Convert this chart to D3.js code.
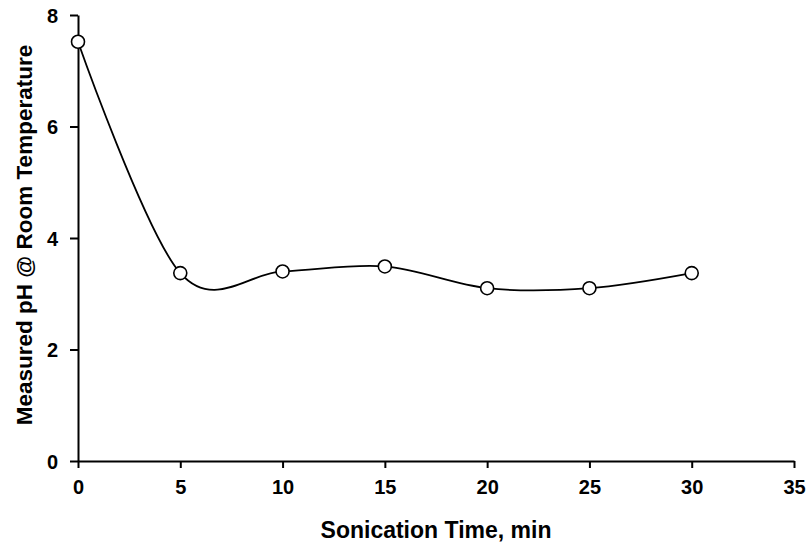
<!DOCTYPE html>
<html>
<head>
<meta charset="utf-8">
<script src="https://cdn.jsdelivr.net/npm/d3@7"></script>
<style>
  html, body { margin: 0; padding: 0; background: #fff; }
  svg { display: block; }
  text { font-family: "Liberation Sans", Arial, sans-serif; font-weight: bold; fill: #000; }
</style>
</head>
<body>
<svg id="chart" width="810" height="546"></svg>
<script>
const timeMin = [0, 5, 10, 15, 20, 25, 30];
const phValues = [7.52, 3.37, 3.40, 3.49, 3.10, 3.10, 3.37];
const xTicks = [0, 5, 10, 15, 20, 25, 30, 35];
const yTicks = [0, 2, 4, 6, 8];
const xTitle = "Sonication Time, min";
const yTitle = "Measured pH @ Room Temperature";

(function () {
const svg = d3.select("#chart");
const mLeft = 78, mRight = 794, mTop = 15, mBottom = 461;

const x = d3.scaleLinear().domain([0, 35]).range([mLeft, mRight]);
const y = d3.scaleLinear().domain([0, 8]).range([mBottom, mTop]);

const xAxis = svg.append("g")
  .attr("transform", `translate(0,${mBottom})`)
  .call(d3.axisBottom(x).tickValues(xTicks).tickSize(7).tickPadding(12).tickSizeOuter(0));
const yAxis = svg.append("g")
  .attr("transform", `translate(${mLeft},0)`)
  .call(d3.axisLeft(y).tickValues(yTicks).tickSize(8).tickPadding(12).tickSizeOuter(0));

[xAxis, yAxis].forEach(g => {
  g.select(".domain").attr("stroke", "#000").attr("stroke-width", 2);
  g.selectAll(".tick line").attr("stroke", "#000").attr("stroke-width", 2);
  g.selectAll(".tick text")
    .style("font-family", '"Liberation Sans", Arial, sans-serif')
    .style("font-weight", "bold")
    .style("font-size", "20px")
    .attr("fill", "#000");
});
yAxis.selectAll(".tick text").attr("dy", "0.35em");

const pts = timeMin.map((t, i) => [t, phValues[i]]);
const line = d3.line()
  .x(d => x(d[0]))
  .y(d => y(d[1]))
  .curve(d3.curveCatmullRom.alpha(0));

svg.append("path")
  .datum(pts)
  .attr("d", line)
  .attr("fill", "none")
  .attr("stroke", "#000")
  .attr("stroke-width", 1.8);

svg.append("g").selectAll("circle")
  .data(pts)
  .join("circle")
  .attr("cx", d => x(d[0]))
  .attr("cy", d => y(d[1]))
  .attr("r", 6.5)
  .attr("fill", "#fff")
  .attr("stroke", "#000")
  .attr("stroke-width", 1.6);

svg.append("text")
  .attr("x", (mLeft + mRight) / 2)
  .attr("y", 538)
  .attr("text-anchor", "middle")
  .style("font-size", "23px")
  .text(xTitle);

svg.append("text")
  .attr("transform", `translate(32,${(45 + 425) / 2}) rotate(-90)`)
  .attr("text-anchor", "middle")
  .style("font-size", "22.5px")
  .text(yTitle);
})();
</script>
</body>
</html>
